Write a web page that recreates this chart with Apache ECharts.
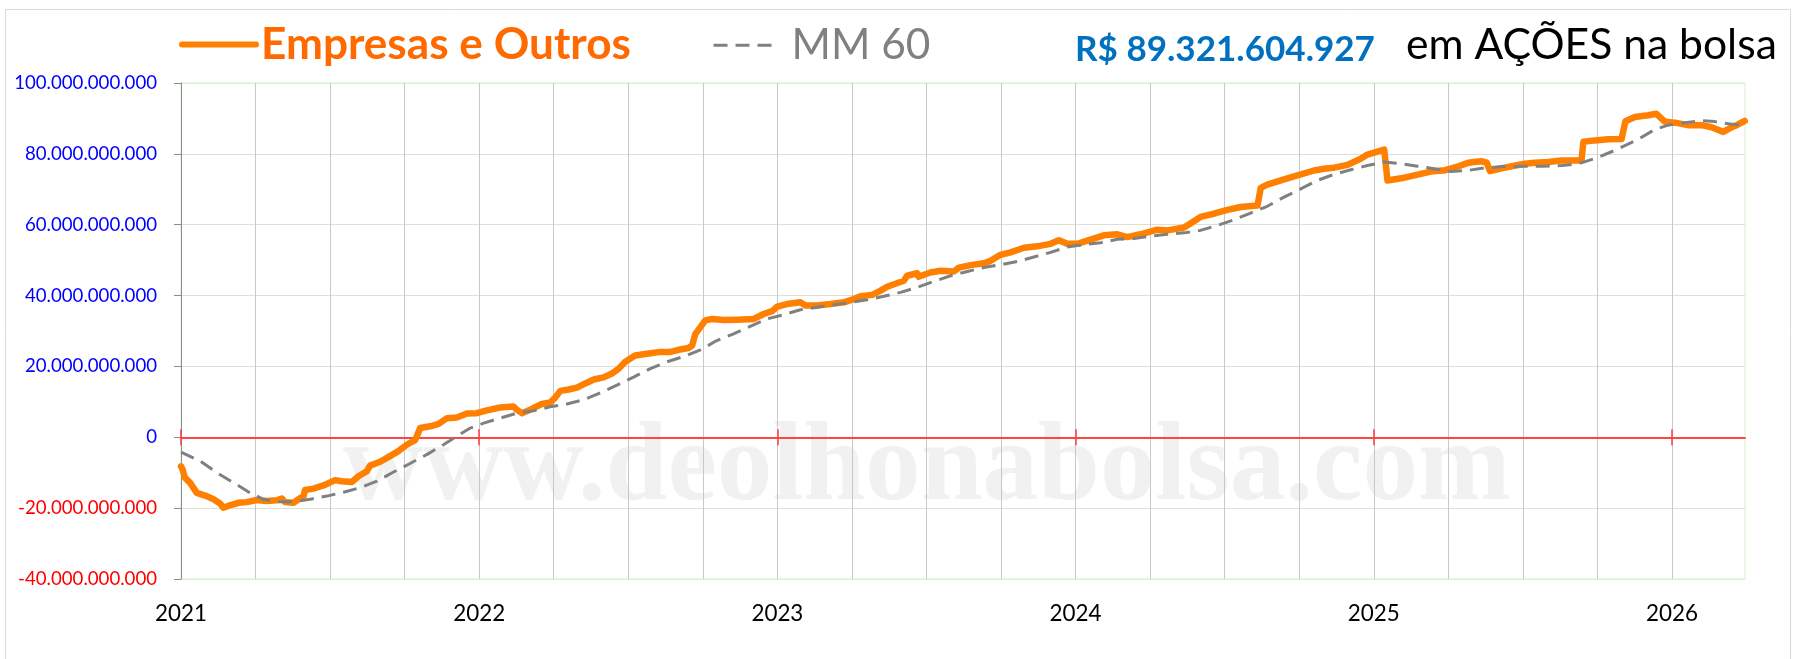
<!DOCTYPE html>
<html><head><meta charset="utf-8">
<script src="https://cdn.jsdelivr.net/npm/echarts@6/dist/echarts.min.js"></script>
<style>html,body{margin:0;padding:0;background:#fff}#c{width:1798px;height:659px}</style>
</head><body><div id="c"></div>
<script>
// ---------------- data (values in billions of R$) ----------------
const seriesNames = ['Empresas e Outros', 'MM 60'];
const totalLabel = 'R$ 89.321.604.927';
const totalSuffix = 'em AÇÕES na bolsa';
const watermark = 'www.deolhonabolsa.com';
const yearTicks = [2021, 2022, 2023, 2024, 2025, 2026];
const yTicks = [-40, -20, 0, 20, 40, 60, 80, 100];

const empresasX = [2021.000,2021.005,2021.013,2021.030,2021.053,2021.086,2021.109,2021.131,2021.142,2021.164,2021.192,2021.220,2021.254,2021.287,2021.321,2021.338,2021.349,2021.377,2021.394,2021.411,2021.416,2021.444,2021.478,2021.517,2021.539,2021.573,2021.595,2021.623,2021.634,2021.668,2021.701,2021.729,2021.757,2021.785,2021.791,2021.802,2021.836,2021.864,2021.892,2021.925,2021.959,2021.992,2022.026,2022.070,2022.115,2022.126,2022.143,2022.171,2022.210,2022.238,2022.255,2022.272,2022.300,2022.328,2022.356,2022.384,2022.417,2022.445,2022.468,2022.490,2022.523,2022.563,2022.607,2022.641,2022.669,2022.702,2022.714,2022.725,2022.742,2022.758,2022.781,2022.820,2022.865,2022.921,2022.954,2022.982,2023.000,2023.032,2023.077,2023.094,2023.133,2023.178,2023.223,2023.256,2023.279,2023.318,2023.346,2023.368,2023.424,2023.435,2023.469,2023.474,2023.513,2023.547,2023.592,2023.609,2023.648,2023.692,2023.715,2023.748,2023.782,2023.827,2023.871,2023.916,2023.944,2023.972,2024.006,2024.050,2024.095,2024.140,2024.173,2024.218,2024.274,2024.308,2024.364,2024.397,2024.419,2024.464,2024.509,2024.554,2024.610,2024.621,2024.643,2024.699,2024.744,2024.800,2024.833,2024.867,2024.912,2024.956,2024.979,2025.035,2025.046,2025.092,2025.140,2025.191,2025.240,2025.284,2025.314,2025.334,2025.362,2025.379,2025.390,2025.428,2025.462,2025.507,2025.540,2025.585,2025.630,2025.686,2025.697,2025.703,2025.742,2025.786,2025.831,2025.844,2025.876,2025.920,2025.948,2025.976,2026.010,2026.054,2026.099,2026.133,2026.172,2026.200,2026.217,2026.244];
const empresasY = [-8.2,-9.0,-11.4,-12.8,-15.7,-16.6,-17.5,-18.7,-19.9,-19.2,-18.5,-18.3,-17.7,-18.0,-17.8,-17.3,-18.3,-18.5,-17.5,-16.6,-14.9,-14.5,-13.6,-12.1,-12.4,-12.6,-11.0,-9.6,-8.0,-6.9,-5.3,-3.9,-2.1,-0.8,0.3,2.6,3.1,3.8,5.4,5.6,6.7,6.8,7.6,8.4,8.7,7.8,6.8,7.8,9.4,9.8,11.2,13.1,13.5,14.0,15.2,16.3,16.9,18.0,19.4,21.3,23.1,23.6,24.1,24.1,24.7,25.2,25.9,29.2,31.1,33.0,33.4,33.1,33.2,33.4,34.8,35.6,36.9,37.6,38.1,37.2,37.2,37.6,38.1,39.0,39.8,40.2,41.4,42.5,44.2,45.6,46.3,45.3,46.5,47.0,46.8,47.9,48.6,49.1,49.8,51.5,52.2,53.5,53.9,54.6,55.6,54.6,54.6,55.8,57.0,57.3,56.5,57.3,58.6,58.4,59.2,61.0,62.2,63.1,64.2,65.0,65.4,70.4,71.3,72.8,73.9,75.3,75.8,76.1,76.9,78.6,79.8,81.2,72.5,73.1,74.0,75.0,75.4,76.5,77.4,77.7,77.9,77.5,75.1,75.9,76.5,77.2,77.5,77.7,78.1,78.1,78.4,83.4,83.8,84.1,84.2,89.2,90.4,90.9,91.3,89.1,88.8,88.1,88.1,87.5,86.2,87.5,88.1,89.3];

const mm60X = [2021.000,2021.064,2021.120,2021.176,2021.232,2021.276,2021.321,2021.377,2021.433,2021.489,2021.545,2021.601,2021.657,2021.713,2021.768,2021.824,2021.880,2021.925,2021.970,2022.015,2022.070,2022.126,2022.182,2022.238,2022.294,2022.350,2022.400,2022.462,2022.518,2022.574,2022.630,2022.686,2022.742,2022.797,2022.853,2022.909,2022.965,2023.021,2023.077,2023.133,2023.189,2023.245,2023.301,2023.357,2023.413,2023.469,2023.525,2023.581,2023.637,2023.692,2023.748,2023.804,2023.860,2023.916,2023.972,2024.028,2024.084,2024.140,2024.196,2024.252,2024.308,2024.364,2024.419,2024.475,2024.531,2024.587,2024.643,2024.699,2024.755,2024.811,2024.867,2024.923,2024.979,2025.035,2025.091,2025.147,2025.203,2025.259,2025.314,2025.370,2025.429,2025.496,2025.563,2025.630,2025.686,2025.742,2025.809,2025.887,2025.943,2025.987,2026.043,2026.099,2026.144,2026.189,2026.244];
const mm60Y = [-4.2,-6.7,-10.0,-12.8,-15.7,-17.5,-18.2,-18.2,-17.5,-16.6,-15.5,-14.2,-12.4,-9.8,-7.4,-4.9,-2.1,0.3,2.6,4.0,5.4,6.8,7.5,8.6,9.4,10.6,12.3,14.7,17.0,19.4,21.3,22.8,24.7,27.3,29.2,31.3,33.4,34.6,36.0,36.7,37.4,38.1,38.8,39.8,40.9,42.3,44.0,45.6,46.8,47.9,48.7,49.6,50.9,52.2,53.7,54.4,54.9,55.9,56.1,56.8,57.3,57.7,58.4,59.8,61.4,63.3,65.2,67.8,70.1,72.5,74.2,75.5,76.7,77.7,77.2,76.5,75.8,75.0,75.3,76.0,76.4,76.5,76.5,76.7,77.2,78.7,81.0,84.1,86.9,88.1,88.8,89.4,89.1,88.5,88.0];

// ---------------- helpers ----------------
const FF = 'Lato';
const mctx = document.createElement('canvas').getContext('2d');
function fit(text, weight, family, w) {
  mctx.font = weight + ' 100px "' + family + '"';
  return 100 * w / mctx.measureText(text).width;
}
function fmt(n) {
  const s = Math.abs(Math.round(n)).toString().replace(/\B(?=(\d{3})+(?!\d))/g, '.');
  return (n < 0 ? '-' : '') + s;
}
const MID = 0.387; // em-middle above baseline for Lato
const fs1 = fit(seriesNames[0], 'bold', FF, 370);
const fs2 = fit(seriesNames[1], 'normal', FF, 139);
const fs3 = fit(totalLabel, 'bold', FF, 300);
const fs4 = fit(totalSuffix, 'normal', FF, 371);
const fsY = fit('100.000.000.000', 'normal', FF, 143);
const fsX = fit('2021', 'normal', FF, 52);
const fsW = fit(watermark, 'bold', 'Liberation Serif', 1168);
const base = 61.7;
const LH = 50;
const topFor = fs => base - MID * fs - LH / 2;

const chart = echarts.init(document.getElementById('c'), null, {renderer: 'canvas'});
const xMin = yearTicks[0], xMax = 2026.245;
const redAxis = (inside) => ({
  type: 'value', min: xMin, max: xMax, interval: 1, position: 'bottom',
  axisLine: {show: true, onZero: true, onZeroAxisIndex: 0, lineStyle: {color: '#FF3B3B', width: 1.5}},
  axisTick: {show: true, inside: inside, length: 8, customValues: yearTicks, lineStyle: {color: '#FF3B3B', width: 1.5}},
  axisLabel: {show: false}, splitLine: {show: false}
});

chart.setOption({
  animation: false,
  backgroundColor: '#fff',
  grid: {left: 181, right: 53, top: 83, bottom: 80, show: true, borderColor: '#D6EFD0', borderWidth: 1, backgroundColor: 'transparent'},
  title: [
    {text: totalLabel, left: 1075, top: topFor(fs3) + 1.5, padding: 0,
     textStyle: {fontFamily: FF, fontWeight: 'bold', fontSize: fs3, color: '#0070C0', lineHeight: LH}},
    {text: totalSuffix, left: 1406, top: topFor(fs4), padding: 0,
     textStyle: {fontFamily: FF, fontWeight: 'normal', fontSize: fs4, color: '#000000', lineHeight: LH}}
  ],
  legend: [
    {data: [seriesNames[0]], left: 179, top: topFor(fs1), padding: 0, itemWidth: 74, itemHeight: 14, selectedMode: false,
     itemStyle: {opacity: 0, color: 'transparent', borderWidth: 0}, lineStyle: {width: 6, cap: 'round'},
     textStyle: {fontFamily: FF, fontWeight: 'bold', fontSize: fs1, color: '#FF6A00', lineHeight: LH}},
    {data: [seriesNames[1]], left: 712, top: topFor(fs2), padding: 0, itemWidth: 60, itemHeight: 14, selectedMode: false,
     itemStyle: {opacity: 0, color: 'transparent', borderWidth: 0}, lineStyle: {width: 3},
     textStyle: {fontFamily: FF, fontWeight: 'normal', fontSize: fs2, color: '#808080', lineHeight: LH, padding: [0, 0, 0, 13]}}
  ],
  xAxis: [
    {type: 'value', min: xMin, max: xMax, interval: 0.25, position: 'bottom',
     axisLine: {show: false, onZero: false}, axisTick: {show: false},
     axisLabel: {show: true, customValues: yearTicks, formatter: v => String(Math.round(v)), fontFamily: FF, fontSize: fsX, lineHeight: 24, color: '#000', margin: 23},
     splitLine: {show: true, showMaxLine: false, lineStyle: {color: '#C8C8C8', width: 1}}},
    redAxis(true),
    redAxis(false)
  ],
  yAxis: [{
    type: 'value', min: yTicks[0], max: yTicks[yTicks.length - 1], interval: yTicks[1] - yTicks[0],
    axisLine: {show: true, onZero: false, lineStyle: {color: '#8C8C8C', width: 1}},
    axisTick: {show: true, length: 7, lineStyle: {color: '#8C8C8C'}},
    axisLabel: {formatter: v => fmt(v * 1e9), fontFamily: FF, fontSize: fsY, margin: 24,
      color: v => (parseFloat(v) < 0 ? '#FF0000' : '#0000FF')},
    splitLine: {show: true, lineStyle: {color: ['#D6EFD0', '#E2DFD2', '#E2DFD2', '#E2DFD2', '#E2DFD2', '#E2DFD2', '#E2DFD2', '#D6EFD0'], width: 1}}
  }],
  graphic: [
    {type: 'rect', silent: true, z: -10, shape: {x: 5.5, y: 9.5, width: 1785, height: 700},
     style: {fill: 'none', stroke: '#D9D9D9', lineWidth: 1}},
    {type: 'text', silent: true, z: -5, x: 343, y: 508 - 0.3375 * fsW,
     style: {text: watermark, font: 'bold ' + fsW.toFixed(1) + 'px "Liberation Serif"', fill: '#F1F1F1', align: 'left', verticalAlign: 'middle'}}
  ],
  series: [
    {name: seriesNames[0], type: 'line', symbol: 'none', showSymbol: false, z: 3,
     data: empresasX.map((x, i) => [x, empresasY[i]]),
     lineStyle: {color: '#FF8000', width: 6.5, cap: 'round', join: 'round'}, itemStyle: {color: '#FF8000'}},
    {name: seriesNames[1], type: 'line', symbol: 'none', showSymbol: false, z: 4,
     data: mm60X.map((x, i) => [x, mm60Y[i]]),
     lineStyle: {color: '#808080', width: 3, type: [14, 8]}, itemStyle: {color: '#808080'}}
  ]
});
</script></body></html>
